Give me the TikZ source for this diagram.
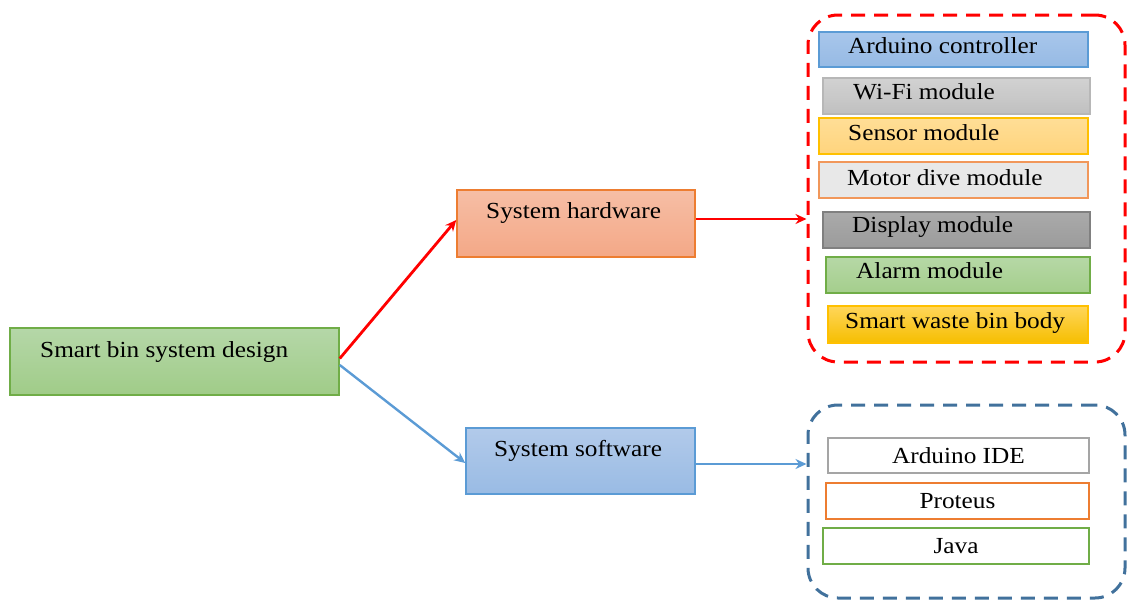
\documentclass[tikz,border=0pt]{standalone}
\usepackage{fontspec}
\setmainfont{Liberation Serif}[FakeStretch=1.1]
\usetikzlibrary{arrows.meta}
\definecolor{redline}{HTML}{FF0000}
\definecolor{bluearrow}{HTML}{5B9BD5}
\definecolor{bluedash}{HTML}{41719C}
\definecolor{greenborder}{HTML}{70AD47}
\definecolor{orangeborder}{HTML}{ED7D31}
\definecolor{blueborder}{HTML}{5B9BD5}
\definecolor{grayborder}{HTML}{A5A5A5}
\definecolor{goldborder}{HTML}{FFC000}
\tikzset{
  box/.style={draw, rectangle, line width=1.5pt, inner sep=0pt},
  txt/.style={font=\fontsize{23}{27}\selectfont, inner sep=0pt, text=black},
  grp/.style={draw, rectangle, rounded corners=30pt, line width=3pt, dash pattern=on 14pt off 9pt, inner sep=0pt},
  harrow/.style={draw=redline, line width=2.8pt, -{Stealth[length=11pt,width=10pt]}},
  sarrow/.style={draw=bluearrow, line width=2.4pt, -{Stealth[length=11pt,width=10pt]}},
}
\begin{document}
\begin{tikzpicture}[x=1pt,y=-1pt]
\useasboundingbox (0,0) rectangle (1128,603);

% main nodes
\node[box, draw=greenborder, minimum width=329pt, minimum height=67pt,
      top color={rgb,255:red,181;green,215;blue,168}, bottom color={rgb,255:red,160;green,204;blue,136}] (design) at (174.5,361.5) {};
\node[txt, anchor=west] (designt) at (40,352) {Smart bin system design};

\node[box, draw=orangeborder, top color={rgb,255:red,246;green,190;blue,165}, bottom color={rgb,255:red,244;green,168;blue,135},
      minimum width=238pt, minimum height=67pt] (hw) at (576,223.5) {};
\node[txt, anchor=west] (hwt) at (486,213) {System hardware};

\node[box, draw=blueborder, top color={rgb,255:red,178;green,202;blue,234}, bottom color={rgb,255:red,153;green,187;blue,228},
      minimum width=229pt, minimum height=66pt] (sw) at (580.5,461) {};
\node[txt, anchor=west] (swt) at (494,451) {System software};

% groups
\node[grp, draw=redline, minimum width=317pt, minimum height=347pt] (hwg) at (966.5,188.5) {};
\node[grp, draw=bluedash, minimum width=317pt, minimum height=193pt] (swg) at (966.5,501.5) {};

% hardware items
\node[box, draw=blueborder, top color={rgb,255:red,168;green,198;blue,235}, bottom color={rgb,255:red,150;green,186;blue,228},
      minimum width=269pt, minimum height=35pt] (ac) at (953.5,49.5) {};
\node[txt, anchor=west] (act) at (848,46) {Arduino controller};

\node[box, draw=grayborder!80, top color={rgb,255:red,210;green,210;blue,210}, bottom color={rgb,255:red,192;green,192;blue,192},
      minimum width=267pt, minimum height=36pt] (wifi) at (956.5,96) {};
\node[txt, anchor=west] (wifit) at (853,92) {Wi-Fi module};

\node[box, draw=goldborder, top color={rgb,255:red,255;green,222;blue,150}, bottom color={rgb,255:red,255;green,212;blue,125},
      minimum width=269pt, minimum height=36pt] (sensor) at (953.5,136) {};
\node[txt, anchor=west] (sensort) at (848,133) {Sensor module};

\node[box, draw=orangeborder!80, fill={rgb,255:red,232;green,232;blue,232},
      minimum width=269pt, minimum height=36pt] (motor) at (953.5,180) {};
\node[txt, anchor=west] (motort) at (847,178) {Motor dive module};

\node[box, draw=black!50, top color={rgb,255:red,170;green,170;blue,170}, bottom color={rgb,255:red,155;green,155;blue,155},
      minimum width=267pt, minimum height=36pt] (display) at (956.5,230) {};
\node[txt, anchor=west] (displayt) at (852,227) {Display module};

\node[box, draw=greenborder, top color={rgb,255:red,182;green,216;blue,166}, bottom color={rgb,255:red,164;green,206;blue,140},
      minimum width=264pt, minimum height=36pt] (alarm) at (958,275) {};
\node[txt, anchor=west] (alarmt) at (856,271) {Alarm module};

\node[box, draw=goldborder, top color={rgb,255:red,255;green,214;blue,90}, bottom color={rgb,255:red,246;green,190;blue,0},
      minimum width=260pt, minimum height=37pt] (body) at (958,324.5) {};
\node[txt, anchor=west] (bodyt) at (845,323) {Smart waste bin body};

% software items
\node[box, draw=grayborder, fill=white, minimum width=261pt, minimum height=35pt, txt, inner sep=0pt] (ide) at (958.5,455.5) {Arduino IDE};
\node[box, draw=orangeborder, fill=white, minimum width=263pt, minimum height=36pt, txt, inner sep=0pt] (proteus) at (957.5,501) {Proteus};
\node[box, draw=greenborder, fill=white, minimum width=266pt, minimum height=36pt, txt, inner sep=0pt] (java) at (956,546) {Java};

% connectors
\draw[harrow] ([yshift=3pt]design.east) -- ([yshift=3.5pt]hw.west);
\draw[sarrow] ([yshift=-3.5pt]design.east) -- ([yshift=-2pt]sw.west);
\draw[harrow] ([yshift=4.5pt]hw.east) -- ([yshift=4.5pt]hw.east -| hwg.west);
\draw[sarrow] ([yshift=-3pt]sw.east) -- ([yshift=-3pt]sw.east -| swg.west);
\end{tikzpicture}
\end{document}
